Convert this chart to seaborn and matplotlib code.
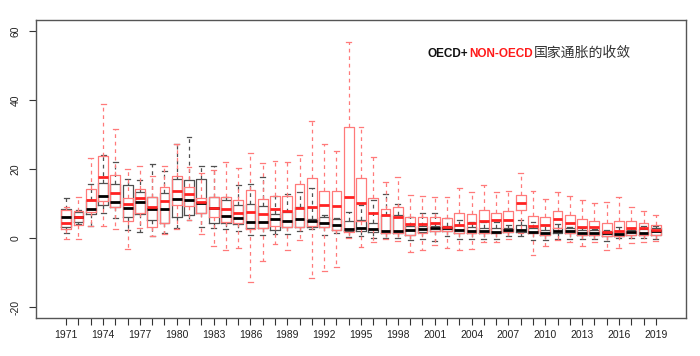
import numpy as np
import pandas as pd
import matplotlib
matplotlib.use("Agg")
import matplotlib.pyplot as plt
import seaborn as sns
from matplotlib.offsetbox import TextArea, HPacker, AnchoredOffsetbox

years = list(range(1971, 2020))

# OECD (black) box statistics: whisker low, Q1, median, Q3, whisker high
oecd_lo = [1.5, 4.1, 3.5, 7.2, 5.8, 2.2, 1.6, 0.7, 1.4, 3.0,
           5.2, 3.1, 3.0, 2.5, 2.1, 0.9, 0.8, 1.1, 1.2, 2.0,
           2.7, 0.9, 1.4, 0.2, 0.6, 0.1, -0.1, -0.1, -0.6, -0.4,
           -0.8, 0.7, -0.4, -0.4, -0.4, -0.2, 0.6, 0.6, -0.6, -0.6,
           -0.2, -0.2, -0.2, -0.2, -0.8, -0.1, -0.1, -0.1, -0.3]
oecd_q1 = [3.3, 4.7, 6.9, 9.6, 8.9, 6.0, 7.0, 5.3, 4.4, 6.1,
           6.6, 7.2, 4.3, 4.3, 4.0, 2.9, 3.0, 2.4, 3.3, 3.2,
           3.3, 3.2, 2.2, 2.0, 2.0, 1.6, 1.3, 1.4, 0.8, 1.7,
           2.1, 2.1, 1.3, 1.4, 1.4, 1.4, 1.6, 1.8, 1.3, 0.8,
           1.4, 1.4, 0.8, 0.9, 0.6, 0.6, 0.9, 0.9, 0.9]
oecd_med = [6.0, 6.0, 8.3, 12.3, 10.5, 8.7, 10.5, 8.3, 8.4, 11.4,
            10.9, 10.0, 8.6, 6.3, 5.7, 4.6, 4.5, 5.4, 5.0, 5.5,
            4.9, 4.2, 3.7, 2.6, 2.9, 2.6, 1.9, 2.0, 2.4, 2.6,
            2.8, 3.0, 2.3, 2.1, 1.9, 1.8, 2.4, 2.3, 1.8, 1.4,
            2.0, 1.9, 1.4, 1.5, 1.5, 1.2, 1.7, 1.5, 2.1]
oecd_q3 = [8.4, 7.6, 11.0, 16.0, 15.6, 15.3, 13.3, 12.0, 13.0, 17.0,
           16.7, 17.0, 11.8, 11.0, 9.7, 9.9, 9.2, 6.9, 7.5, 8.9,
           5.5, 6.2, 5.4, 5.0, 5.1, 4.3, 6.8, 6.8, 3.6, 3.6,
           3.5, 3.4, 3.8, 3.2, 2.9, 3.0, 3.0, 3.7, 2.8, 2.2,
           3.0, 2.8, 2.2, 2.3, 2.0, 2.1, 2.4, 2.5, 3.0]
oecd_hi = [11.5, 8.1, 15.6, 24.0, 22.0, 17.0, 16.8, 21.4, 19.3, 27.2,
           29.4, 20.8, 20.9, 12.0, 15.4, 15.7, 17.6, 12.2, 12.8, 13.4,
           14.5, 6.8, 5.8, 7.4, 9.6, 11.0, 12.7, 9.9, 6.0, 7.3,
           7.3, 5.9, 5.3, 4.5, 4.7, 4.7, 3.8, 5.2, 4.7, 3.7,
           4.1, 3.3, 2.9, 2.6, 2.3, 3.3, 2.8, 3.6, 3.6]

# NON-OECD (red) box statistics
non_lo = [-0.4, -0.3, 3.5, 3.4, 2.5, -3.1, 3.0, 0.7, 1.1, 2.5,
          5.2, 1.1, -2.3, -3.5, -2.9, -12.9, -6.7, -1.7, -3.6, -0.6,
          -11.5, -9.5, -8.3, 0.1, -2.7, -1.1, -0.2, -1.0, -4.0, -3.6,
          -2.0, -2.8, -3.4, -3.1, -1.3, -1.3, -0.2, 1.4, -4.9, -2.4,
          -0.6, -1.1, -2.2, -1.3, -3.5, -3.0, -1.5, -1.1, -1.0]
non_q1 = [2.6, 3.9, 7.5, 10.7, 8.9, 5.0, 7.1, 3.3, 4.3, 9.5,
          9.3, 7.2, 6.0, 4.6, 4.2, 2.7, 3.0, 3.5, 3.3, 3.3,
          3.5, 3.3, 2.2, 1.8, 5.0, 2.5, 1.3, 1.4, 0.9, 1.5,
          2.0, 2.0, 1.3, 1.4, 1.4, 1.4, 1.6, 8.0, 1.3, 0.8,
          3.0, 1.5, 0.8, 0.9, 0.5, 0.6, 0.9, 0.9, 0.9]
non_med = [4.3, 6.2, 11.0, 17.7, 12.9, 9.9, 11.5, 9.1, 10.8, 13.7,
           12.7, 10.3, 8.6, 8.5, 7.3, 7.4, 7.0, 8.3, 7.8, 8.7,
           9.1, 9.5, 9.4, 11.8, 10.1, 7.3, 6.7, 6.0, 4.0, 4.0,
           4.3, 3.2, 3.9, 4.2, 4.8, 5.3, 5.3, 10.2, 3.4, 3.8,
           5.4, 4.3, 3.3, 3.1, 1.7, 2.1, 2.8, 2.8, 2.4]
non_q3 = [8.1, 7.8, 14.3, 23.8, 18.2, 11.5, 14.1, 12.0, 14.7, 18.0,
          14.7, 11.7, 12.0, 12.0, 10.9, 13.8, 11.2, 12.2, 12.3, 15.6,
          17.5, 13.6, 13.5, 32.3, 17.3, 11.7, 8.5, 9.1, 6.2, 6.2,
          6.2, 5.9, 7.2, 7.0, 8.2, 7.3, 7.9, 12.5, 6.4, 6.0,
          7.8, 6.6, 5.5, 5.0, 4.4, 5.0, 4.9, 4.3, 3.7]
non_hi = [9.0, 11.8, 23.1, 38.8, 31.6, 20.1, 20.8, 18.1, 20.9, 27.2,
          20.7, 18.9, 19.7, 22.0, 20.4, 24.5, 21.8, 22.3, 22.1, 24.0,
          33.9, 27.2, 25.2, 56.9, 32.3, 23.4, 16.1, 17.8, 12.5, 12.2,
          12.0, 12.0, 14.5, 13.3, 15.4, 13.2, 13.7, 18.9, 13.6, 11.2,
          13.3, 12.2, 11.0, 10.0, 10.3, 11.8, 8.9, 7.8, 6.7]

yticks = [-20, 0, 20, 40, 60]
label_years = years[::3]

title_a = "OECD+"
title_b = "NON-OECD"
title_c = "国家通胀的收敛"


def long_frame(lo, q1, med, q3, hi):
    rows = []
    for i, y in enumerate(years):
        for v in (lo[i], q1[i], med[i], q3[i], hi[i]):
            rows.append((str(y), v))
    return pd.DataFrame(rows, columns=["year", "value"])


df_oecd = long_frame(oecd_lo, oecd_q1, oecd_med, oecd_q3, oecd_hi)
df_non = long_frame(non_lo, non_q1, non_med, non_q3, non_hi)
order = [str(y) for y in years]

plt.rcParams["font.family"] = ["Liberation Sans", "DejaVu Sans"]

fig = plt.figure(figsize=(7.0, 3.56), dpi=100)
ax = fig.add_axes([36 / 700, 1 - 318 / 356, 650 / 700, 298 / 356])

dash = (0, (3, 3))
sns.boxplot(data=df_oecd, x="year", y="value", order=order, ax=ax,
            fill=False, color="#505050", width=0.8, whis=(0, 100),
            showfliers=False, linewidth=0.9,
            medianprops=dict(color="black", linewidth=2.0),
            whiskerprops=dict(linestyle=dash))
sns.boxplot(data=df_non, x="year", y="value", order=order, ax=ax,
            fill=False, color="#ff7a7a", width=0.8, whis=(0, 100),
            showfliers=False, linewidth=0.9,
            medianprops=dict(color="#ff2222", linewidth=2.0),
            whiskerprops=dict(linestyle=dash))

ax.set_xlim(-2.46, 50.46)
ax.set_ylim(-23.2, 63.2)
ax.set_xlabel("")
ax.set_ylabel("")
ax.set_xticks(range(len(years)))
ax.set_xticklabels([str(y) if y in label_years else "" for y in years],
                   fontsize=7.5, color="#222222")
ax.set_yticks(yticks)
ax.set_yticklabels([str(t) for t in yticks], rotation=90, va="center",
                   fontsize=7.5, color="#222222")
ax.tick_params(axis="x", direction="out", length=5, width=0.8,
               color="#333333", pad=4)
ax.tick_params(axis="y", direction="out", length=5, width=0.8,
               color="#333333", pad=6)
for s in ax.spines.values():
    s.set_visible(True)
    s.set_color("#555555")
    s.set_linewidth(1.0)

latin = dict(fontsize=8.5, fontweight="bold", family=["Liberation Sans", "DejaVu Sans"])
t1 = TextArea(title_a, textprops=dict(color="#111111", **latin))
t2 = TextArea(title_b, textprops=dict(color="#ff1a1a", **latin))
t3 = TextArea(title_c, textprops=dict(color="#333333", fontsize=10,
                                       family=["Noto Sans CJK SC", "DejaVu Sans"]))
box = HPacker(children=[t1, t2, t3], align="baseline", pad=0, sep=1)
anch = AnchoredOffsetbox(loc="center left", child=box, frameon=False,
                         bbox_to_anchor=(427 / 700, 1 - 53 / 356),
                         bbox_transform=fig.transFigure, borderpad=0, pad=0)
ax.add_artist(anch)

fig.savefig("out.png", dpi=100)
